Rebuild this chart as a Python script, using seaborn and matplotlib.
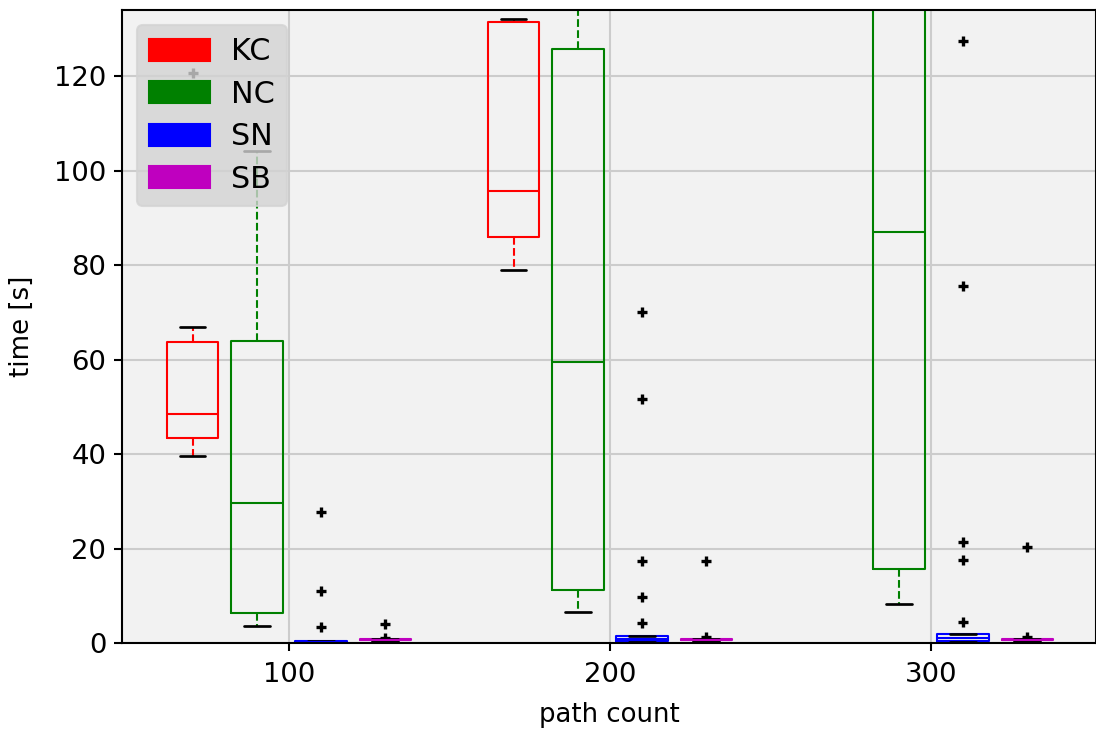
import matplotlib.pyplot as plt
import pandas as pd
import seaborn as sns
from matplotlib.patches import Patch

# categories
path_counts = [100, 200, 300]
methods = ["KC", "NC", "SN", "SB"]
colors = ["r", "g", "b", "m"]

kc_100 = [39.6, 41.5, 43.4, 45.5, 48.5, 55.0, 63.7, 66.9, 120.7]
nc_100 = [3.6, 6.35, 29.6, 63.9, 104.1]
sn_100 = [0.05, 0.08, 0.1, 0.15, 0.2, 0.25, 0.3, 0.35, 0.4, 0.5, 3.4, 11.0, 27.7]
sb_100 = [0.45, 0.5, 0.55, 0.6, 0.65, 0.7, 0.75, 1.1, 4.1]

kc_200 = [78.9, 86.0, 95.7, 131.4, 132.1]
nc_200 = [6.56, 11.2, 59.4, 125.7, 165.0]
sn_200 = [0.2, 0.25, 0.3, 0.35, 0.38, 0.42, 0.55, 0.65, 0.7, 0.75, 0.8,
          0.9, 1.0, 1.1, 1.3, 1.48, 4.3, 9.8, 17.3, 51.6, 70.0]
sb_200 = [0.45, 0.5, 0.55, 0.6, 0.65, 0.7, 0.75, 1.3, 17.35]

nc_300 = [8.3, 15.7, 87.1, 150.0, 175.0]
sn_300 = [0.3, 0.35, 0.4, 0.45, 0.48, 0.5, 0.6, 0.7, 0.8, 0.9, 1.0,
          1.1, 1.3, 1.5, 1.7, 1.9, 4.4, 17.5, 21.4, 75.6, 127.5]
sb_300 = [0.5, 0.55, 0.6, 0.65, 0.7, 0.75, 0.8, 1.25, 20.4]

runs = [
    ("KC", 100, kc_100), ("NC", 100, nc_100), ("SN", 100, sn_100), ("SB", 100, sb_100),
    ("KC", 200, kc_200), ("NC", 200, nc_200), ("SN", 200, sn_200), ("SB", 200, sb_200),
    ("NC", 300, nc_300), ("SN", 300, sn_300), ("SB", 300, sb_300),
]
df = pd.DataFrame(
    [(m, n, t) for m, n, vals in runs for t in vals],
    columns=["method", "path count", "time"],
)

sns.set_style("whitegrid", {
    "axes.facecolor": "#f2f2f2",
    "grid.color": "#cccccc",
    "axes.edgecolor": "black",
    "text.color": "black",
    "axes.labelcolor": "black",
    "xtick.color": "black",
    "ytick.color": "black",
})
plt.rcParams["font.family"] = ["DejaVu Sans"]

fig = plt.figure(figsize=(1096 / 150, 731 / 150), dpi=150)
ax = fig.add_axes([122 / 1096, 1 - 643 / 731, 1 - 122 / 1096, (643 - 10) / 731])

sns.boxplot(
    data=df, x="path count", y="time", hue="method",
    hue_order=methods, palette=colors, native_scale=True,
    fill=False, width=0.8, gap=0.2, linewidth=1.0, whis=1.5,
    whiskerprops=dict(linestyle="--"),
    capprops=dict(color="k", linewidth=1.3),
    flierprops=dict(marker="+", markeredgecolor="k", markersize=5, markeredgewidth=1.6),
    legend=False, ax=ax,
)

ax.set_xlim(48, 351.4)
ax.set_ylim(0, 134)
ax.set_xticks(path_counts)
ax.set_yticks(range(0, 121, 20))
ax.tick_params(labelsize=13.2, length=4, width=1, color="black", direction="out",
               bottom=True, left=True, labelcolor="black")
ax.tick_params(axis="x", pad=5)
ax.set_xlabel("path count", fontsize=12.5, color="black", labelpad=7)
ax.set_ylabel("time [s]", fontsize=12.5, color="black", labelpad=9)
ax.set_axisbelow(True)
ax.grid(True, linewidth=1)
for side in ["left", "bottom", "top", "right"]:
    ax.spines[side].set_color("black")
    ax.spines[side].set_linewidth(1)

handles = [Patch(facecolor=c, edgecolor=c, label=m) for m, c in zip(methods, colors)]
leg = ax.legend(handles=handles, loc="upper left", fontsize=14.5, frameon=True,
                facecolor="#d3d3d3", edgecolor="#d3d3d3", framealpha=0.8,
                fancybox=True, labelspacing=0.45, handleheight=0.75,
                handletextpad=0.7, labelcolor="black")

fig.savefig("out.png", dpi=150)
